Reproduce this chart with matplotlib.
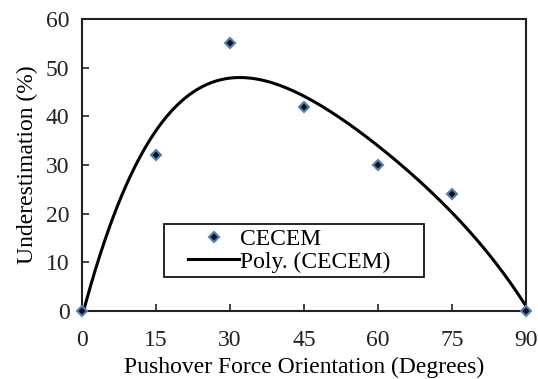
import matplotlib.pyplot as plt
from matplotlib.patches import Rectangle
import numpy as np

plt.rcParams['font.family'] = ['Liberation Serif', 'DejaVu Serif']

angle = np.array([0, 15, 30, 45, 60, 75, 90])
underest = np.array([0, 32, 55, 42, 30, 24, 0])

# polynomial trendline (order 4) fitted to the points
coef = np.polyfit(angle, underest, 4)
xs = np.linspace(0, 90, 200)
ys = np.polyval(coef, xs)

fig = plt.figure(figsize=(5.38, 3.79), dpi=100)
ax = fig.add_axes([82/538, 1 - 311/379, (526-82)/538, (311-19)/379])

ax.plot(angle, underest, linestyle='none', marker='D', markersize=5.5,
        markerfacecolor='#111111', markeredgecolor='#4f81bd', markeredgewidth=1.5,
        label='CECEM', clip_on=False, zorder=3)
ax.plot(xs, ys, color='black', linewidth=2.2, label='Poly. (CECEM)')

ax.set_xlim(0, 90)
ax.set_ylim(0, 60)
ax.set_xticks([0, 15, 30, 45, 60, 75, 90])
ax.set_yticks([0, 10, 20, 30, 40, 50, 60])
ax.tick_params(direction='in', labelsize=17, length=5, width=1.2, colors='#222222')
ax.tick_params(axis='x', pad=14)
ax.tick_params(axis='y', pad=9)
for s in ax.spines.values():
    s.set_linewidth(1.5)
    s.set_color('#222222')

ax.set_xlabel('Pushover Force Orientation (Degrees)', fontsize=17, labelpad=4)
ax.set_ylabel('Underestimation (%)', fontsize=17, labelpad=6)

ax.add_patch(Rectangle((0.1847, 0.1164), 0.770 - 0.1847, 0.298 - 0.1164,
                       transform=ax.transAxes, fill=True, facecolor='white',
                       edgecolor='black', linewidth=1.2, zorder=4))
leg = ax.legend(fontsize=17, loc='center left', bbox_to_anchor=((192-82)/444 - 0.008, 0.207),
                frameon=False, borderpad=0, handlelength=2.15, handletextpad=0.05,
                labelspacing=0.05, borderaxespad=0)
leg.set_zorder(5)

fig.savefig('out.png', dpi=100)
